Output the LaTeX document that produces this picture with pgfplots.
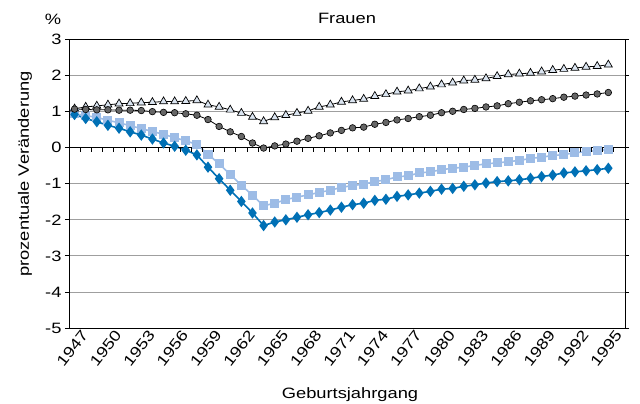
\documentclass[border=0pt]{standalone}
\usepackage{pgfplots}
\pgfplotsset{compat=1.18}
\usepackage{pgfplotstable}
\usepackage{fontspec}
\setmainfont[FakeStretch=1.22]{Liberation Sans}
\definecolor{lblue}{HTML}{9DBCE6}
\definecolor{dblue}{HTML}{0070B5}
\definecolor{cgray}{HTML}{666666}
\definecolor{tfill}{HTML}{DBE5F1}
\pgfplotstableread{
year tri circ sq dia
1947 1.08 1.07 0.94 0.92
1948 1.13 1.06 0.89 0.81
1949 1.16 1.05 0.84 0.72
1950 1.19 1.05 0.76 0.62
1951 1.22 1.04 0.69 0.54
1952 1.23 1.04 0.61 0.44
1953 1.25 1.03 0.53 0.35
1954 1.26 1.00 0.45 0.24
1955 1.28 0.98 0.37 0.13
1956 1.28 0.97 0.28 0.04
1957 1.29 0.94 0.19 -0.07
1958 1.31 0.90 0.09 -0.20
1959 1.19 0.78 -0.18 -0.54
1960 1.13 0.59 -0.45 -0.86
1961 1.05 0.44 -0.74 -1.18
1962 0.96 0.31 -1.04 -1.49
1963 0.85 0.13 -1.32 -1.81
1964 0.73 -0.01 -1.61 -2.16
1965 0.84 0.05 -1.54 -2.06
1966 0.90 0.10 -1.44 -2.00
1967 0.96 0.18 -1.37 -1.93
1968 1.02 0.26 -1.31 -1.86
1969 1.13 0.33 -1.24 -1.80
1970 1.19 0.41 -1.18 -1.73
1971 1.27 0.48 -1.10 -1.65
1972 1.31 0.55 -1.05 -1.58
1973 1.35 0.57 -1.01 -1.54
1974 1.43 0.65 -0.94 -1.46
1975 1.48 0.70 -0.89 -1.43
1976 1.55 0.77 -0.81 -1.35
1977 1.58 0.81 -0.78 -1.31
1978 1.64 0.86 -0.70 -1.26
1979 1.69 0.90 -0.67 -1.21
1980 1.75 0.97 -0.61 -1.15
1981 1.80 1.01 -0.57 -1.13
1982 1.86 1.06 -0.54 -1.07
1983 1.88 1.09 -0.49 -1.03
1984 1.92 1.13 -0.45 -0.98
1985 1.98 1.16 -0.42 -0.94
1986 2.03 1.22 -0.39 -0.92
1987 2.05 1.26 -0.35 -0.89
1988 2.07 1.30 -0.30 -0.85
1989 2.11 1.33 -0.26 -0.80
1990 2.15 1.36 -0.22 -0.76
1991 2.18 1.40 -0.19 -0.70
1992 2.21 1.43 -0.14 -0.67
1993 2.24 1.46 -0.11 -0.64
1994 2.26 1.49 -0.08 -0.61
1995 2.30 1.53 -0.05 -0.57
}\datatable
\begin{document}
\begin{tikzpicture}[font=\fontsize{15}{18}\selectfont]
\useasboundingbox (-69pt,-76pt) rectangle (571pt,328pt);
\begin{axis}[
  at={(0pt,0pt)}, anchor=south west,
  scale only axis, width=556pt, height=288.5pt,
  xmin=0.5, xmax=50.5, ymin=-5, ymax=3,
  ytick={-5,-4,...,3},
  xtick={1,4,...,49},
  xticklabels={1947,1950,1953,1956,1959,1962,1965,1968,1971,1974,1977,1980,1983,1986,1989,1992,1995},
  /pgf/number format/assume math mode=true,
  x tick label style={rotate=52, anchor=north east, inner sep=1pt, xshift=7pt, yshift=-2pt},
  xtick style={draw=none},
  ytick style={black, line width=0.8pt},
  tick align=outside, major tick length=4pt,
  ymajorgrids, grid style={gray!75, line width=0.8pt},
  axis line style={black, line width=0.8pt},
]
\addplot[lblue, line width=1.6pt, mark=square*, mark size=3.7pt, mark options={fill=lblue, draw=lblue}] table[x expr=\thisrow{year}-1946, y=sq] {\datatable};
\addplot[dblue, line width=1.6pt, mark=diamond*, mark size=4.4pt, mark options={fill=dblue, draw=dblue}] table[x expr=\thisrow{year}-1946, y=dia] {\datatable};
\addplot[black, line width=0.8pt, mark=triangle*, mark size=4.6pt, mark options={fill=tfill, draw=black, line width=0.7pt}] table[x expr=\thisrow{year}-1946, y=tri] {\datatable};
\addplot[black, line width=0.8pt, mark=*, mark size=3.3pt, mark options={fill=cgray, draw=black, line width=0.6pt}] table[x expr=\thisrow{year}-1946, y=circ] {\datatable};
\draw[black, line width=0.8pt] (axis cs:0.5,0) -- (axis cs:50.5,0);
\pgfplotsinvokeforeach{1.5,2.5,...,49.5}{\draw[black, line width=0.8pt] (axis cs:#1,0) -- (axis cs:#1,-0.11);}
\end{axis}
\node at (-16pt,309pt) {\%};
\node at (278pt,310pt) {Frauen};
\node at (281pt,-67pt) {Geburtsjahrgang};
\node[rotate=90] at (-44pt,154pt) {prozentuale Veränderung};
\end{tikzpicture}
\end{document}
